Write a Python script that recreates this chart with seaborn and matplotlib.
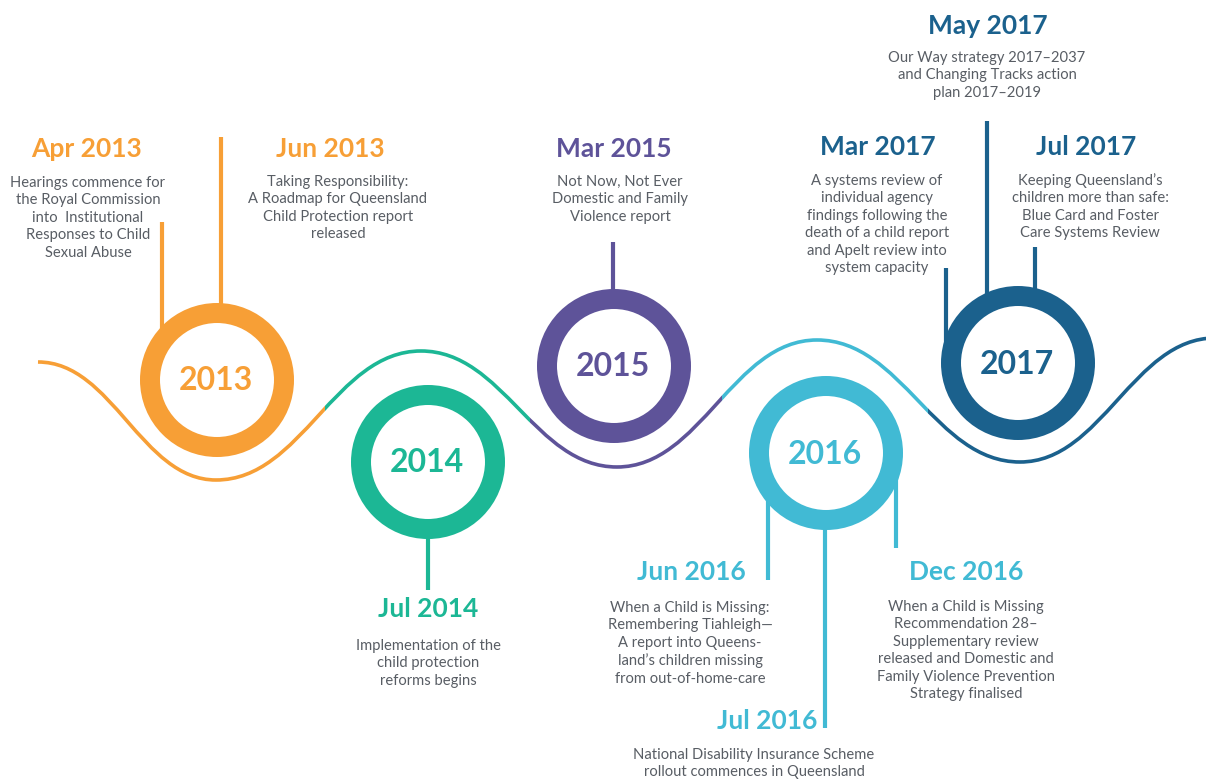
import matplotlib
matplotlib.use("Agg")
import matplotlib.pyplot as plt
from matplotlib.path import Path
from matplotlib.patches import PathPatch, Rectangle
import seaborn as sns
import pandas as pd

# ---------------- data ----------------
years = ["2013", "2014", "2015", "2016", "2017"]
year_colors = ["#F79F36", "#1CB795", "#5E5399", "#41BAD4", "#1B618D"]

event_dates = ["Apr 2013", "Jun 2013", "Jul 2014", "Mar 2015", "Jun 2016",
               "Jul 2016", "Dec 2016", "Mar 2017", "May 2017", "Jul 2017"]
event_year = ["2013", "2013", "2014", "2015", "2016",
              "2016", "2016", "2017", "2017", "2017"]
event_texts = [
    "Hearings commence for\nthe Royal Commission\ninto  Institutional\nResponses to Child\nSexual Abuse",
    "Taking Responsibility:\nA Roadmap for Queensland\nChild Protection report\nreleased",
    "Implementation of the\nchild protection\nreforms begins",
    "Not Now, Not Ever\nDomestic and Family\nViolence report",
    "When a Child is Missing:\nRemembering Tiahleigh\u2014\nA report into Queens-\nland\u2019s children missing\nfrom out-of-home-care",
    "National Disability Insurance Scheme\nrollout commences in Queensland",
    "When a Child is Missing\nRecommendation 28\u2013\nSupplementary review\nreleased and Domestic and\nFamily Violence Prevention\nStrategy finalised",
    "A systems review of\nindividual agency\nfindings following the\ndeath of a child report\nand Apelt review into\nsystem capacity",
    "Our Way strategy 2017\u20132037\nand Changing Tracks action\nplan 2017\u20132019",
    "Keeping Queensland\u2019s\nchildren more than safe:\nBlue Card and Foster\nCare Systems Review",
]

# ---------------- layout (pixel space) ----------------
circle_x = [217, 428, 614, 826, 1018]
circle_y = [380, 462, 366, 453, 363]

wave_x = [38, 216, 421, 617, 817, 1020, 1215]
wave_y = [362, 480, 351, 467, 340, 462, 338]
wave_breaks = [0, 325, 530, 722, 928, 1210]

stem_x = [162, 221, 428, 613, 768, 825, 896, 946, 987, 1035]
stem_top = [222, 137, 530, 242, 495, 520, 460, 268, 121, 247]
stem_bot = [330, 310, 590, 295, 580, 728, 548, 345, 300, 300]

head_x = [87, 330, 428, 614, 691, 767, 966, 878, 988, 1086]
head_y = [149, 149, 609, 149, 572, 721, 572, 147, 26, 147]
body_x = [88, 338, 428, 620, 690, 754, 966, 877, 987, 1090]
body_y = [176, 175, 639, 175, 601, 748, 600, 174, 51, 173]

TEXT_GREY = "#585D64"

# ---------------- figure ----------------
sns.set_theme(style="white")
plt.rcParams["font.family"] = ["Lato", "DejaVu Sans"]

fig = plt.figure(figsize=(12.06, 7.80), dpi=100)
ax = fig.add_axes([0, 0, 1, 1])
ax.set_xlim(0, 1206)
ax.set_ylim(780, 0)
ax.axis("off")

# wave built from cubic Bezier segments between extrema
verts = [(wave_x[0], wave_y[0])]
codes = [Path.MOVETO]
for i in range(len(wave_x) - 1):
    x0, y0, x1, y1 = wave_x[i], wave_y[i], wave_x[i + 1], wave_y[i + 1]
    dx = x1 - x0
    verts += [(x0 + 0.42 * dx, y0), (x1 - 0.42 * dx, y1), (x1, y1)]
    codes += [Path.CURVE4, Path.CURVE4, Path.CURVE4]
wave_path = Path(verts, codes)
for i, col in enumerate(year_colors):
    patch = PathPatch(wave_path, facecolor="none", edgecolor=col, lw=2.6,
                      zorder=1, capstyle="butt")
    ax.add_patch(patch)
    clip = Rectangle((wave_breaks[i], 0), wave_breaks[i + 1] - wave_breaks[i], 780,
                     transform=ax.transData, visible=False)
    ax.add_patch(clip)
    patch.set_clip_path(clip)

# stems
col_of = dict(zip(years, year_colors))
for i in range(len(event_dates)):
    ax.plot([stem_x[i], stem_x[i]], [stem_top[i], stem_bot[i]],
            color=col_of[event_year[i]], lw=3.0, solid_capstyle="butt", zorder=2)

# rings via seaborn scatter
df = pd.DataFrame({"x": circle_x, "y": circle_y, "year": years})
sns.scatterplot(data=df, x="x", y="y", hue="year", palette=col_of,
                s=9308, legend=False, ax=ax, zorder=3)
coll = ax.collections[-1]
coll.set_edgecolors(coll.get_facecolors())
coll.set_facecolors("white")
coll.set_linewidths(14.4)
ax.set_xlim(0, 1206)
ax.set_ylim(780, 0)
ax.axis("off")

for yr, cx, cy, col in zip(years, circle_x, circle_y, year_colors):
    ax.text(cx - 1, cy + 1, yr, ha="center", va="center", fontsize=23,
            fontweight="bold", color=col, zorder=4)

for i in range(len(event_dates)):
    col = col_of[event_year[i]]
    ax.text(head_x[i], head_y[i], event_dates[i], ha="center", va="center",
            fontsize=19, fontweight="bold", color=col, zorder=4)
    ax.text(body_x[i], body_y[i], event_texts[i], ha="center", va="top",
            fontsize=10.6, color=TEXT_GREY, linespacing=1.31, zorder=4)

fig.savefig("out.png", dpi=100, facecolor="white")
